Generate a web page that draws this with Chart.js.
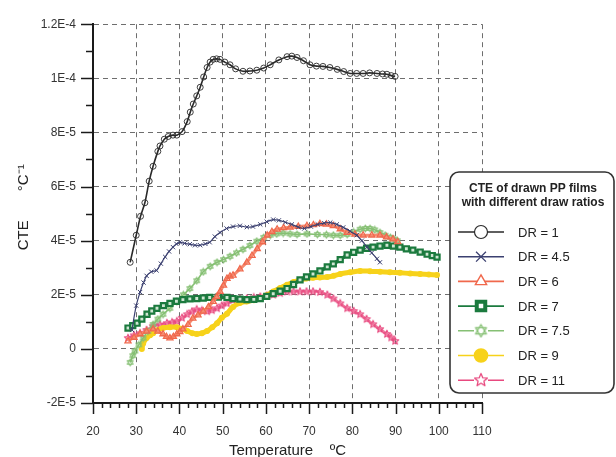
<!DOCTYPE html>
<html><head><meta charset="utf-8">
<script src="https://cdn.jsdelivr.net/npm/chart.js@4/dist/chart.umd.min.js"></script>
<style>html,body{margin:0;padding:0;background:#fff}#wrap{width:616px;height:457px;position:relative}</style>
</head><body><div id="wrap"><canvas id="c" width="616" height="457"></canvas></div>
<script>
// Values: CTE in units of 1E-5 per °C, temperature in °C
const legendTitle = ['CTE of drawn PP films', 'with different draw ratios'];
const seriesNames = ['DR = 1', 'DR = 4.5', 'DR = 6', 'DR = 7', 'DR = 7.5', 'DR = 9', 'DR = 11'];
const xTickValues = [20, 30, 40, 50, 60, 70, 80, 90, 100, 110];
const yTickValues = [-2, 0, 2, 4, 6, 8, 10, 12];

const dr1Temp = [28.6,30,31,32,33,33.9,35,35.5,36.5,37.4,38.5,39.4,40.6,41.8,42.5,43.2,44,44.8,45.6,46.4,47.1,47.8,48.6,49.4,50.5,51.7,53,54.7,56.3,57.9,59.5,61,63,64.9,66,67.2,68.7,70.2,71.7,73.2,74.8,76.5,78,79.5,81,82.5,84,85.7,87,88,89,89.9];
const dr1Cte  = [3.2,4.2,4.9,5.4,6.2,6.75,7.3,7.5,7.75,7.85,7.9,7.9,8.03,8.4,8.75,9.05,9.35,9.67,10.05,10.4,10.6,10.7,10.72,10.7,10.6,10.5,10.35,10.26,10.27,10.3,10.38,10.5,10.68,10.8,10.82,10.77,10.65,10.5,10.45,10.44,10.4,10.33,10.25,10.18,10.18,10.18,10.2,10.18,10.16,10.15,10.1,10.07];

const dr45Temp = [29,30,30.9,31.7,32.4,33.5,34.7,35.7,36.7,37.6,38.5,39.3,40.1,41.2,42.4,43.6,44.8,46,47,48.2,49.4,50.9,52.4,54,55.6,57,58.7,60.2,61.7,63,64.5,66,67.5,68.9,70.4,72,73.5,74.9,76.4,77.9,79.5,81,82.2,83.4,84.5,85.7,86.4];
const dr45Cte  = [0.7,1.6,2.1,2.45,2.7,2.85,2.9,3.15,3.4,3.6,3.76,3.88,3.94,3.9,3.87,3.83,3.83,3.88,3.94,4.15,4.3,4.45,4.52,4.55,4.5,4.52,4.6,4.7,4.78,4.75,4.68,4.6,4.5,4.45,4.52,4.6,4.65,4.67,4.6,4.49,4.35,4.2,4.0,3.76,3.55,3.33,3.2];

const dr6Temp = [28.1,29.5,30.9,32.4,33.9,35,36.2,37,37.8,38.6,39.4,40.1,40.8,42,43.1,44.3,45.5,46.7,47.8,48.6,49.4,50.2,51,51.7,52.4,54,55.6,56.8,58,59.2,60.3,61.4,62.6,64.1,65.6,67.5,69.5,71,72.5,74,75.6,77.2,78.8,80.6,82.5,84.5,86.4,87.9,89.4,90.5];
const dr6Cte  = [0.29,0.42,0.55,0.65,0.73,0.65,0.55,0.45,0.4,0.45,0.55,0.63,0.73,0.9,1.13,1.25,1.39,1.55,1.75,1.92,2.12,2.35,2.6,2.68,2.72,2.95,3.2,3.45,3.7,3.95,4.2,4.33,4.42,4.47,4.49,4.52,4.55,4.58,4.62,4.6,4.55,4.43,4.3,4.23,4.2,4.2,4.2,4.13,4.06,3.96];

const dr7Temp = [28.1,29.2,30.2,31.3,32.5,33.6,34.8,36.3,37.8,39.3,40.8,42.4,44,45.5,47,49,51,52.4,54,55.6,57.2,58.7,60.2,61.7,63.3,64.9,66.4,67.9,69.4,70.9,72.5,74.2,75.6,77.2,78.8,80.3,81.8,83.3,84.8,86.4,88,89.5,91,92.5,94,95.7,97.3,98.5,99.6];
const dr7Cte  = [0.77,0.86,0.95,1.1,1.28,1.4,1.5,1.6,1.68,1.76,1.82,1.85,1.86,1.88,1.9,1.91,1.9,1.86,1.84,1.82,1.83,1.86,1.94,2.04,2.13,2.23,2.38,2.55,2.66,2.77,2.88,3.03,3.14,3.3,3.47,3.57,3.65,3.72,3.76,3.8,3.83,3.8,3.76,3.7,3.65,3.58,3.5,3.45,3.39];

const dr75Temp = [28.6,29.2,29.7,30.6,31.6,32.7,33.9,35,36.2,37.8,39.4,40.9,42.4,44,45.5,47.1,48.7,50.2,51.7,53.2,54.7,56.3,57.9,59.5,61,62.5,64,65.6,67.2,69.5,71.9,74,75.6,77.2,78.8,80.3,81.8,83,84.1,85.2,86.4,87.6,88.8,89.6,90.4];
const dr75Cte  = [-0.5,-0.25,-0.08,0.15,0.4,0.65,0.9,1.1,1.28,1.5,1.75,2.0,2.23,2.52,2.85,3.05,3.2,3.3,3.42,3.55,3.68,3.82,3.98,4.12,4.2,4.25,4.28,4.25,4.23,4.25,4.23,4.22,4.2,4.2,4.23,4.32,4.42,4.45,4.45,4.4,4.3,4.2,4.12,4.06,4.0];

const dr9Temp = [31.3,31.6,32.4,33.2,33.9,35,36.2,37.8,39.4,40.6,41.8,43,44,45.2,46.4,47.6,48.7,49.8,51,52.4,54,55.6,57.2,58.7,60.2,61.7,63.3,64.9,66.4,67.9,69.4,70.9,72.5,74.2,75.7,77.2,79.5,81.8,84.1,86.4,88.7,91,93.4,95.7,97.7,99.6];
const dr9Cte  = [0.0,0.2,0.4,0.5,0.58,0.7,0.77,0.8,0.8,0.74,0.66,0.58,0.55,0.58,0.66,0.8,0.95,1.15,1.3,1.55,1.7,1.75,1.8,1.86,1.98,2.12,2.25,2.37,2.47,2.55,2.6,2.63,2.64,2.66,2.7,2.77,2.83,2.88,2.87,2.85,2.83,2.81,2.79,2.77,2.75,2.73];

const dr11Temp = [28.1,29.5,30.9,32.4,33.9,35.5,37.1,38.3,39.4,40.6,41.8,42.9,44,45.2,46.4,47.5,48.7,49.8,51,52.4,54,55.6,57.2,58.7,60.2,61.7,63.3,64.9,66.4,67.9,69.4,70.9,72.5,74.2,75.6,77.2,78.8,80.3,81.8,83.3,84.8,86.4,88,89,89.9];
const dr11Cte  = [0.4,0.5,0.58,0.7,0.84,0.9,0.95,0.98,1.02,1.15,1.28,1.38,1.46,1.42,1.39,1.43,1.5,1.6,1.68,1.8,1.84,1.86,1.9,1.93,1.97,2.0,2.06,2.12,2.12,2.12,2.12,2.12,2.1,2.0,1.86,1.68,1.5,1.4,1.28,1.1,0.91,0.73,0.55,0.42,0.29];

const seriesTemps = [dr1Temp, dr45Temp, dr6Temp, dr7Temp, dr75Temp, dr9Temp, dr11Temp];
const seriesCtes  = [dr1Cte, dr45Cte, dr6Cte, dr7Cte, dr75Cte, dr9Cte, dr11Cte];

function makeMarker(kind, color, size, lw) {
  const c = document.createElement('canvas');
  c.width = c.height = size;
  const g = c.getContext('2d');
  g.strokeStyle = color; g.lineWidth = lw; g.lineJoin = 'round';
  const cx = size / 2, cy = size / 2, r = size / 2 - lw;
  if (kind === 'hex') {
    for (let t = 0; t < 2; t++) {
      g.beginPath();
      for (let i = 0; i < 3; i++) {
        const a = -Math.PI / 2 + t * Math.PI + i * 2 * Math.PI / 3;
        const px = cx + r * Math.cos(a), py = cy + r * Math.sin(a);
        if (i === 0) g.moveTo(px, py); else g.lineTo(px, py);
      }
      g.closePath(); g.stroke();
    }
  } else {
    g.beginPath();
    for (let i = 0; i < 10; i++) {
      const rr = i % 2 ? r * 0.45 : r;
      const a = -Math.PI / 2 + i * Math.PI / 5;
      const px = cx + rr * Math.cos(a), py = cy + rr * Math.sin(a);
      if (i === 0) g.moveTo(px, py); else g.lineTo(px, py);
    }
    g.closePath(); g.stroke();
  }
  return c;
}

const colors = ['#2a2a2a', '#3b4070', '#f0684c', '#1b7a3e', '#86c074', '#f7d21a', '#e8497f'];
const hexSmall = makeMarker('hex', colors[4], 9, 1.1);
const hexBig = makeMarker('hex', colors[4], 15, 1.2);
const starSmall = makeMarker('star', colors[6], 10, 1.2);
const starBig = makeMarker('star', colors[6], 16, 1.3);

const styles = [
  { pointStyle: 'circle', pointRadius: 3, pointBorderWidth: 0.9, pointBackgroundColor: 'rgba(255,255,255,0)', borderWidth: 1.6 },
  { pointStyle: 'crossRot', pointRadius: 3, pointBorderWidth: 1, pointBackgroundColor: colors[1], borderWidth: 1.2 },
  { pointStyle: 'triangle', pointRadius: 3.5, pointBorderWidth: 1.3, pointBackgroundColor: 'rgba(255,255,255,0)', borderWidth: 3, borderColor: '#f58a70' },
  { pointStyle: 'rect', pointRadius: 3.6, pointBorderWidth: 2.2, pointBackgroundColor: '#cfe6d3', borderWidth: 3.5 },
  { pointStyle: hexSmall, pointRadius: 4, pointBorderWidth: 1, pointBackgroundColor: colors[4], borderWidth: 1.6 },
  { pointStyle: 'circle', pointRadius: 3, pointBorderWidth: 0, pointBackgroundColor: colors[5], borderWidth: 5 },
  { pointStyle: starSmall, pointRadius: 4, pointBorderWidth: 1, pointBackgroundColor: colors[6], borderWidth: 2.5, borderColor: '#f07aa0' }
];

const datasets = seriesNames.map((name, i) => ({
  label: name,
  data: seriesTemps[i].map((t, k) => ({ x: t, y: seriesCtes[i][k] })),
  borderColor: colors[i],
  pointBorderColor: colors[i],
  tension: 0.3,
  fill: false,
  ...styles[i]
}));

function fmtCTE(v) {
  if (Math.abs(v) < 1e-9) return '0';
  const real = v * 1e-5;
  const e = Math.floor(Math.log10(Math.abs(real)) + 1e-9);
  const m = Math.round(real / Math.pow(10, e) * 10) / 10;
  return m + 'E' + e;
}

const axisDecor = {
  id: 'axisDecor',
  afterDatasetsDraw(chart) {
    const ctx = chart.ctx, xs = chart.scales.x, ys = chart.scales.y;
    const x0 = xs.left, y0 = ys.bottom;
    ctx.save();
    ctx.strokeStyle = '#1a1a1a';
    ctx.lineWidth = 1.5;
    for (let v = ys.min; v <= ys.max + 1e-9; v += 1) {
      const py = Math.round(ys.getPixelForValue(v)) + 0.5;
      const len = (Math.round(v) % 2 === 0) ? 12 : 7;
      ctx.beginPath(); ctx.moveTo(x0 - len, py); ctx.lineTo(x0, py); ctx.stroke();
    }
    for (let t = xs.min; t <= xs.max + 1e-9; t += 2) {
      const px = Math.round(xs.getPixelForValue(t)) + 0.5;
      const len = (Math.round(t) % 10 === 0) ? 11 : 5;
      ctx.beginPath(); ctx.moveTo(px, y0); ctx.lineTo(px, y0 + len); ctx.stroke();
    }
    ctx.restore();
  },
  afterDraw(chart) {
    const ctx = chart.ctx;
    const bx = 450, by = 172, bw = 164, bh = 221, r = 9;
    ctx.save();
    ctx.beginPath();
    ctx.moveTo(bx + r, by);
    ctx.arcTo(bx + bw, by, bx + bw, by + bh, r);
    ctx.arcTo(bx + bw, by + bh, bx, by + bh, r);
    ctx.arcTo(bx, by + bh, bx, by, r);
    ctx.arcTo(bx, by, bx + bw, by, r);
    ctx.closePath();
    ctx.fillStyle = '#fff'; ctx.fill();
    ctx.strokeStyle = '#333'; ctx.lineWidth = 1.6; ctx.stroke();
    ctx.fillStyle = '#222';
    ctx.font = 'bold 12px "Liberation Sans", Arial, sans-serif';
    ctx.textAlign = 'center'; ctx.textBaseline = 'middle';
    ctx.fillText(legendTitle[0], 533, 189);
    ctx.fillText(legendTitle[1], 533, 203);
    ctx.font = '13px "Liberation Sans", Arial, sans-serif';
    ctx.textAlign = 'left';
    chart.data.datasets.forEach((ds, i) => {
      const y = 232 + i * 24.7;
      ctx.strokeStyle = ds.pointBorderColor; ctx.lineWidth = 1.6;
      ctx.beginPath(); ctx.moveTo(458, y); ctx.lineTo(504, y); ctx.stroke();
      const cx = 481;
      if (i === 4) { ctx.fillStyle = '#fff'; ctx.fillRect(cx - 7, y - 7, 14, 14); ctx.drawImage(hexBig, cx - 7.5, y - 7.5); }
      else if (i === 6) { ctx.fillStyle = '#fff'; ctx.fillRect(cx - 7, y - 7, 14, 14); ctx.drawImage(starBig, cx - 8, y - 8); }
      else {
        ctx.strokeStyle = ds.pointBorderColor;
        let opts;
        if (i === 0) { ctx.fillStyle = '#fff'; ctx.lineWidth = 1.2; opts = { pointStyle: 'circle', radius: 6.5, borderWidth: 1.2 }; }
        else if (i === 1) { ctx.fillStyle = ds.pointBorderColor; ctx.lineWidth = 1.3; opts = { pointStyle: 'crossRot', radius: 7, borderWidth: 1.3 }; }
        else if (i === 2) { ctx.fillStyle = '#fff'; ctx.lineWidth = 1.4; opts = { pointStyle: 'triangle', radius: 6.5, borderWidth: 1.4 }; }
        else if (i === 3) { ctx.fillStyle = '#fff'; ctx.lineWidth = 4; opts = { pointStyle: 'rect', radius: 6, borderWidth: 4 }; }
        else { ctx.fillStyle = ds.pointBackgroundColor; ctx.lineWidth = 0; ctx.strokeStyle = ds.pointBackgroundColor; opts = { pointStyle: 'circle', radius: 6.5, borderWidth: 0.1 }; }
        Chart.helpers.drawPoint(ctx, opts, cx, y);
      }
      ctx.fillStyle = '#222';
      ctx.fillText(ds.label, 518, y + 1);
    });
    ctx.restore();
  }
};

const tickFont = { family: '"Liberation Sans", Arial, sans-serif', size: 12 };
new Chart(document.getElementById('c'), {
  type: 'line',
  data: { datasets },
  options: {
    responsive: false,
    animation: false,
    devicePixelRatio: 1,
    layout: { padding: { left: 0, right: 134, top: 19, bottom: 0 } },
    plugins: { legend: { display: false }, tooltip: { enabled: false } },
    scales: {
      x: {
        type: 'linear', min: 20, max: 110,
        afterBuildTicks: s => { s.ticks = xTickValues.map(v => ({ value: v })); },
        ticks: { font: tickFont, color: '#333', padding: 21, maxRotation: 0, autoSkip: false },
        grid: { drawTicks: false, lineWidth: 1, color: c => (c.tick && c.tick.value === 20) ? 'rgba(0,0,0,0)' : '#6e6e6e' },
        border: { display: true, color: '#1a1a1a', width: 2, dash: [5, 4] },
        title: { display: true, text: 'Temperature    ºC', color: '#222', font: { family: '"Liberation Sans", Arial, sans-serif', size: 15, lineHeight: 0.8 }, padding: 0 },
        afterFit: s => { s.height = 54; }
      },
      y: {
        min: -2, max: 12,
        afterBuildTicks: s => { s.ticks = yTickValues.map(v => ({ value: v })); },
        ticks: { font: tickFont, color: '#333', padding: 17, callback: v => fmtCTE(v) },
        grid: { drawTicks: false, lineWidth: 1, color: c => (c.tick && c.tick.value === -2) ? 'rgba(0,0,0,0)' : '#6e6e6e' },
        border: { display: true, color: '#1a1a1a', width: 2, dash: [5, 4] },
        title: { display: true, text: '   CTE       °C⁻¹', color: '#222', font: { family: '"Liberation Sans", Arial, sans-serif', size: 15 }, padding: { top: 15, bottom: 0 } },
        afterFit: s => { s.width = 93; }
      }
    }
  },
  plugins: [axisDecor]
});
</script>
</body></html>
